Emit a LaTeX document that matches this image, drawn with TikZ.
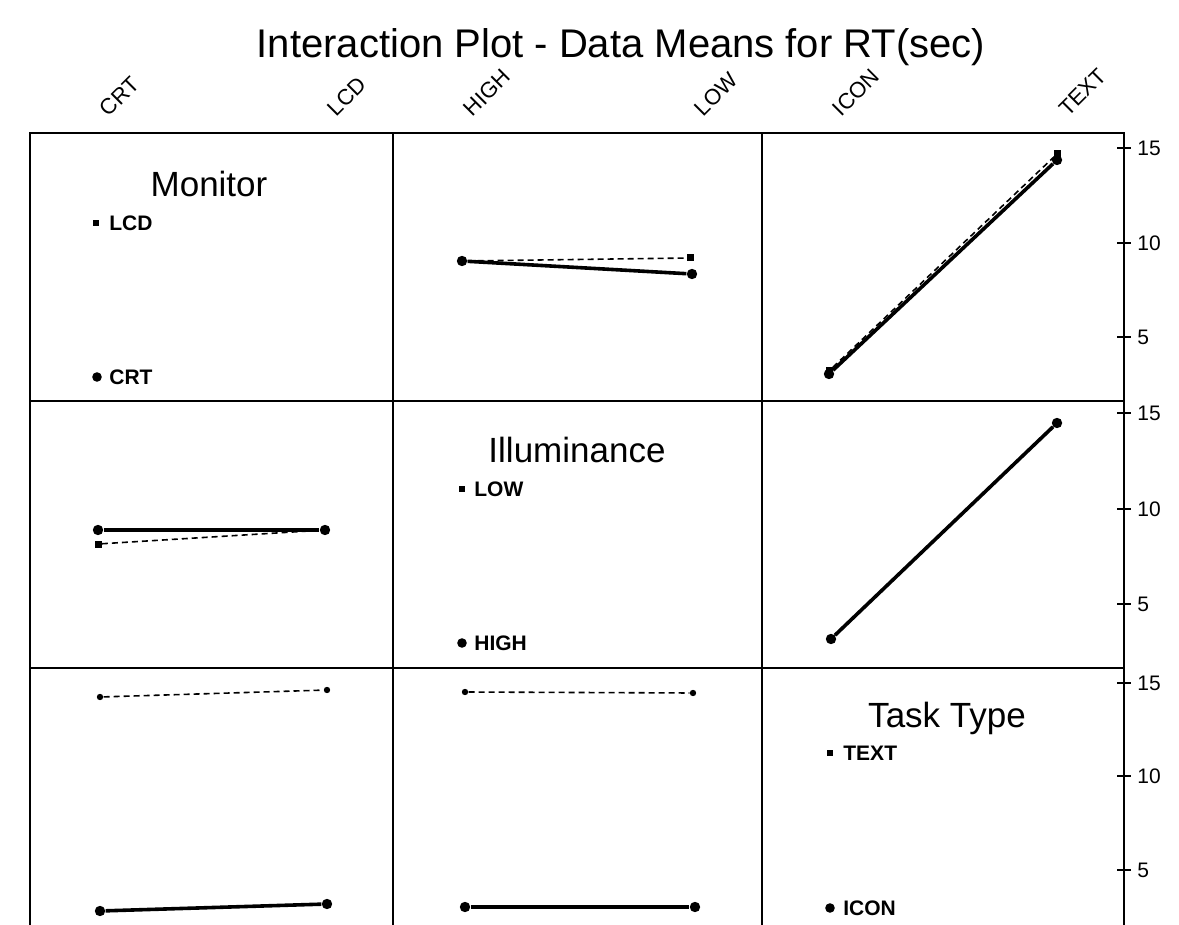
\documentclass[tikz,border=0pt]{standalone}
\usepackage{fontspec}
\setmainfont{Liberation Sans}
\begin{document}
\begin{tikzpicture}[x=0.5pt,y=-0.5pt,
  gridline/.style={line width=1.4pt, line cap=rect},
  tickmark/.style={line width=1.1pt},
  solidline/.style={line width=1.8pt},
  dashline/.style={line width=0.8pt, dash pattern=on 3pt off 2pt},
  dot/.style={circle, fill, inner sep=0pt, minimum size=5.2pt},
  sq/.style={rectangle, fill, inner sep=0pt, minimum size=3.5pt},
  sdot/.style={circle, fill, inner sep=0pt, minimum size=3.2pt},
  lgdot/.style={circle, fill, inner sep=0pt, minimum size=4.8pt},
  lgsq/.style={rectangle, fill, inner sep=0pt, minimum size=3pt},
  lvl/.style={rotate=45, anchor=south west, inner sep=0pt, font=\fontsize{11}{13}\selectfont},
  lgtitle/.style={anchor=base, inner sep=0pt, font=\fontsize{17.5}{20}\selectfont},
  lgtext/.style={anchor=west, inner sep=0pt, font=\fontsize{10.5}{12}\selectfont\bfseries},
  ticklabel/.style={anchor=west, inner sep=0pt, font=\fontsize{10.5}{12}\selectfont},
  titlestyle/.style={anchor=base, inner sep=0pt, font=\fontsize{20}{24}\selectfont}
]
\useasboundingbox (0,0) rectangle (1179,925);
\fill[white] (0,0) rectangle (1179,925);
\clip (0,0) rectangle (1179,925);

% title
\node[titlestyle] (title) at (621,58) {Interaction Plot - Data Means for RT(sec)};

% level labels
\node[lvl] (lcrt)  at (109,118)  {CRT};
\node[lvl] (llcd)  at (337,118)  {LCD};
\node[lvl] (lhigh) at (473,118)  {HIGH};
\node[lvl] (llow)  at (704,118)  {LOW};
\node[lvl] (licon) at (842,118)  {ICON};
\node[lvl] (ltext) at (1068,118) {TEXT};

% grid
\draw[gridline] (30,133) -- (1124,133);
\draw[gridline] (30,401) -- (1124,401);
\draw[gridline] (30,668) -- (1124,668);
\draw[gridline] (30,133) -- (30,940);
\draw[gridline] (393,133) -- (393,940);
\draw[gridline] (762,133) -- (762,940);
\draw[gridline] (1124,133) -- (1124,940);

% right axis ticks and labels
\foreach \yy/\lab [count=\i] in {148/15,243/10,337/5,413/15,509/10,604/5,683/15,776/10,870/5}{
  \draw[tickmark] (1117,\yy) -- (1131,\yy);
  \node[ticklabel] (tk\i) at (1137,\yy) {\lab};
}

% legends
\node[lgtitle] (tmon) at (209,197) {Monitor};
\node[lgsq]  (glcd) at (96,223) {};
\node[lgtext] (glcdt) at (109,223) {LCD};
\node[lgdot] (gcrt) at (97,377) {};
\node[lgtext] (gcrtt) at (109,377) {CRT};

\node[lgtitle] (till) at (577,462) {Illuminance};
\node[lgsq]  (glow) at (462,489) {};
\node[lgtext] (glowt) at (474,489) {LOW};
\node[lgdot] (ghigh) at (462,643) {};
\node[lgtext] (ghight) at (474,643) {HIGH};

\node[lgtitle] (ttask) at (947,727) {Task Type};
\node[lgsq]  (gtext) at (830,753) {};
\node[lgtext] (gtextt) at (843,753) {TEXT};
\node[lgdot] (gicon) at (830,908) {};
\node[lgtext] (gicont) at (843,908) {ICON};

% row 1, col 2: Illuminance x, Monitor lines
\node[sq]  (a12l) at (690,258) {};
\node[dot] (a12h) at (462,261) {};
\node[dot] (b12l) at (692,274) {};
\draw[dashline] (a12h) -- (a12l);
\draw[solidline] (a12h) -- (b12l);

% row 1, col 3: Task x, Monitor lines
\node[sq]  (a13i) at (829,371) {};
\node[sq]  (a13t) at (1057,154) {};
\node[dot] (b13i) at (829,374) {};
\node[dot] (b13t) at (1057,160) {};
\draw[dashline] (a13i) -- (a13t);
\draw[solidline] (b13i) -- (b13t);

% row 2, col 1: Monitor x, Illuminance lines
\node[sq]  (a21c) at (98,544) {};
\node[dot] (b21c) at (98,530) {};
\node[dot] (b21l) at (325,530) {};
\draw[dashline] (a21c) -- (b21l);
\draw[solidline] (b21c) -- (b21l);

% row 2, col 3: Task x, Illuminance lines
\node[dot] (b23i) at (831,639) {};
\node[dot] (b23t) at (1057,423) {};
\draw[dashline] (b23i) -- (b23t);
\draw[solidline] (b23i) -- (b23t);

% row 3, col 1: Monitor x, Task lines
\node[sdot] (a31c) at (100,697) {};
\node[sdot] (a31l) at (327,690) {};
\draw[dashline] (a31c) -- (a31l);
\node[dot] (b31c) at (100,911) {};
\node[dot] (b31l) at (327,904) {};
\draw[solidline] (b31c) -- (b31l);

% row 3, col 2: Illuminance x, Task lines
\node[sdot] (a32h) at (465,692) {};
\node[sdot] (a32l) at (693,693) {};
\draw[dashline] (a32h) -- (a32l);
\node[dot] (b32h) at (465,907) {};
\node[dot] (b32l) at (695,907) {};
\draw[solidline] (b32h) -- (b32l);
\end{tikzpicture}
\end{document}
